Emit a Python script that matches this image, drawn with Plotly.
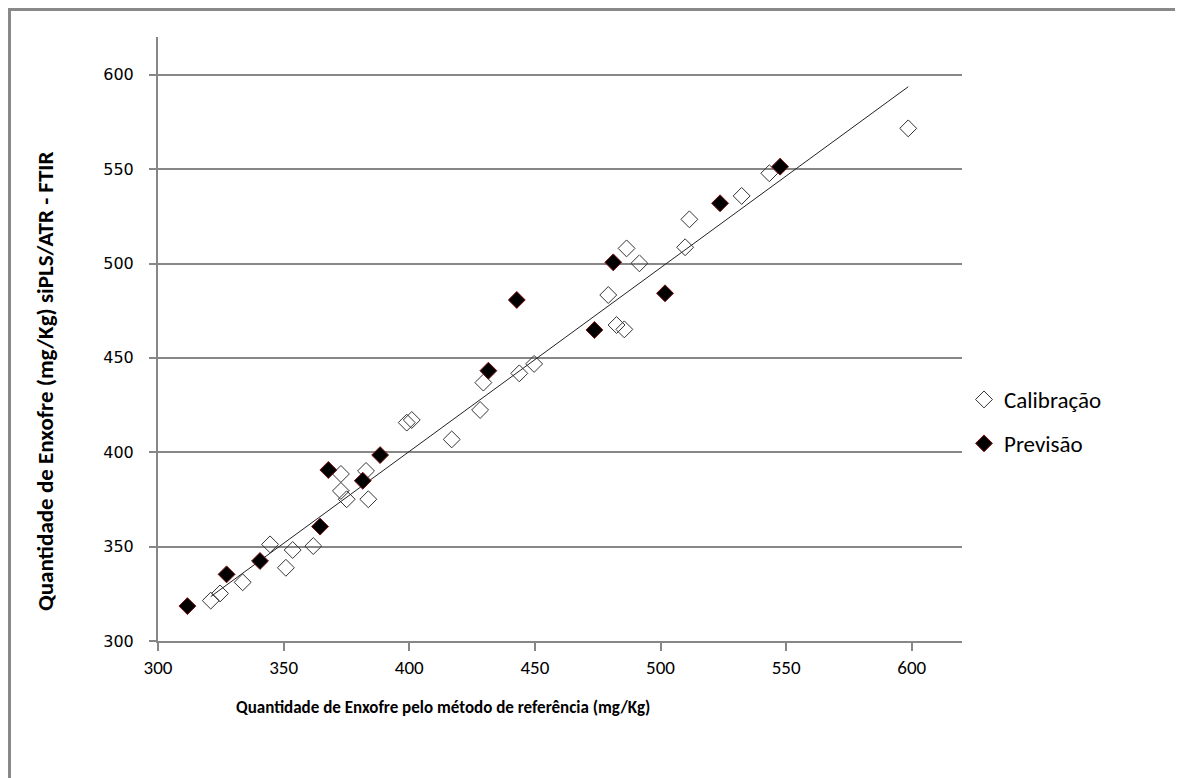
import plotly.graph_objects as go

# Calibração (open diamonds)
calib_x = [321.0, 324.7, 333.7, 344.6, 350.9, 353.6, 361.8, 372.8, 372.8, 375.1,
           382.8, 383.7, 399.0, 401.0, 416.9, 428.2, 429.5, 443.8, 449.7, 479.2,
           482.5, 485.6, 486.5, 491.6, 509.8, 511.5, 532.3, 543.3, 598.6]
calib_y = [321.4, 325.2, 331.1, 351.2, 338.8, 348.2, 350.3, 388.5, 379.5, 375.1,
           390.1, 375.1, 415.7, 417.1, 406.8, 422.4, 436.9, 441.8, 446.8, 483.3,
           467.4, 465.1, 508.0, 500.1, 508.6, 523.4, 535.8, 547.8, 571.6]

# Previsão (filled diamonds)
prev_x = [311.7, 327.3, 340.6, 364.5, 367.8, 381.5, 388.4, 431.5, 442.8,
          473.7, 481.2, 501.8, 523.7, 547.6]
prev_y = [318.5, 335.3, 342.4, 360.6, 390.6, 384.9, 398.5, 443.2, 480.7,
          464.8, 500.6, 484.2, 531.9, 551.3]

# Linear trendline (calibração)
trend_slope = 0.973
trend_intercept = 11.2

x_ticks = [300, 350, 400, 450, 500, 550, 600]
y_ticks = [300, 350, 400, 450, 500, 550, 600]

x_title = "Quantidade de Enxofre pelo método de referência (mg/Kg)"
y_title = "Quantidade de Enxofre (mg/Kg) siPLS/ATR - FTIR"

CAL = "Carlito, Calibri, 'Liberation Sans Narrow', 'Open Sans', sans-serif"

# page is offset by the 8px default body margin
OFF = 8
W, H = 1183 - OFF, 778 - OFF
PL, PT, PR, PB = 158, 37, 962, 641          # plot area in page pixels
L, T = PL - OFF, PT - OFF
R, B = W - (PR - OFF), H - (PB - OFF)
pw, ph = PR - PL, PB - PT

tx = [min(calib_x), max(calib_x)]
ty = [trend_slope * v + trend_intercept for v in tx]

fig = go.Figure()
fig.add_trace(go.Scatter(
    x=tx, y=ty, mode="lines", line=dict(color="#222222", width=1),
    showlegend=False, hoverinfo="skip"))
fig.add_trace(go.Scatter(
    x=calib_x, y=calib_y, mode="markers", name="Calibração",
    legendgroup="a",
    marker=dict(symbol="diamond-open", size=13, color="#333333",
                line=dict(width=1, color="#333333"))))
fig.add_trace(go.Scatter(
    x=prev_x, y=prev_y, mode="markers", name="Previsão",
    legendgroup="b",
    marker=dict(symbol="diamond", size=13, color="black",
                line=dict(width=1, color="#7a1010"))))

grid = "#878787"
fig.update_xaxes(
    range=[300, 620], tickvals=x_ticks, ticktext=[str(v) for v in x_ticks],
    showgrid=False, zeroline=False,
    showline=True, linecolor=grid, linewidth=1.5,
    ticks="outside", ticklen=8, tickcolor=grid, tickwidth=1.5,
    tickfont=dict(family=CAL, size=19, color="black"))
fig.update_yaxes(
    range=[300, 620], tickvals=y_ticks, ticktext=[str(v) for v in y_ticks],
    showgrid=True, gridcolor=grid, gridwidth=1.5, zeroline=False,
    showline=True, linecolor=grid, linewidth=2,
    ticks="outside", ticklen=7, tickcolor=grid, tickwidth=1.5,
    ticklabelstandoff=12,
    tickfont=dict(family="DejaVu Sans", size=16, color="black"))


def px_x(p):
    return (p - PL) / pw


def px_y(p):
    return (PB - p) / ph


fig.add_annotation(text="<b>" + x_title + "</b>", xref="paper", yref="paper",
                   x=px_x(443), y=px_y(707), showarrow=False,
                   xanchor="center", yanchor="middle",
                   font=dict(family=CAL, size=17, color="black"))
fig.add_annotation(text="<b>" + y_title + "</b>", xref="paper", yref="paper",
                   x=px_x(45), y=px_y(382), showarrow=False, textangle=-90,
                   xanchor="center", yanchor="middle",
                   font=dict(family=CAL, size=23, color="black"))

# outer chart border (top and left visible)
fig.add_shape(type="rect", xref="paper", yref="paper",
              x0=px_x(9.5), x1=px_x(1200), y0=px_y(800), y1=px_y(9.5),
              line=dict(color="#898989", width=3), layer="below")

fig.update_layout(
    width=W, height=H,
    margin=dict(l=L, r=R, t=T, b=B),
    paper_bgcolor="white", plot_bgcolor="white",
    legend=dict(x=px_x(964), y=px_y(378), xanchor="left", yanchor="top",
                font=dict(family=CAL, size=23, color="black"),
                tracegroupgap=11, bgcolor="rgba(0,0,0,0)"),
)

fig.write_html("out.html")
